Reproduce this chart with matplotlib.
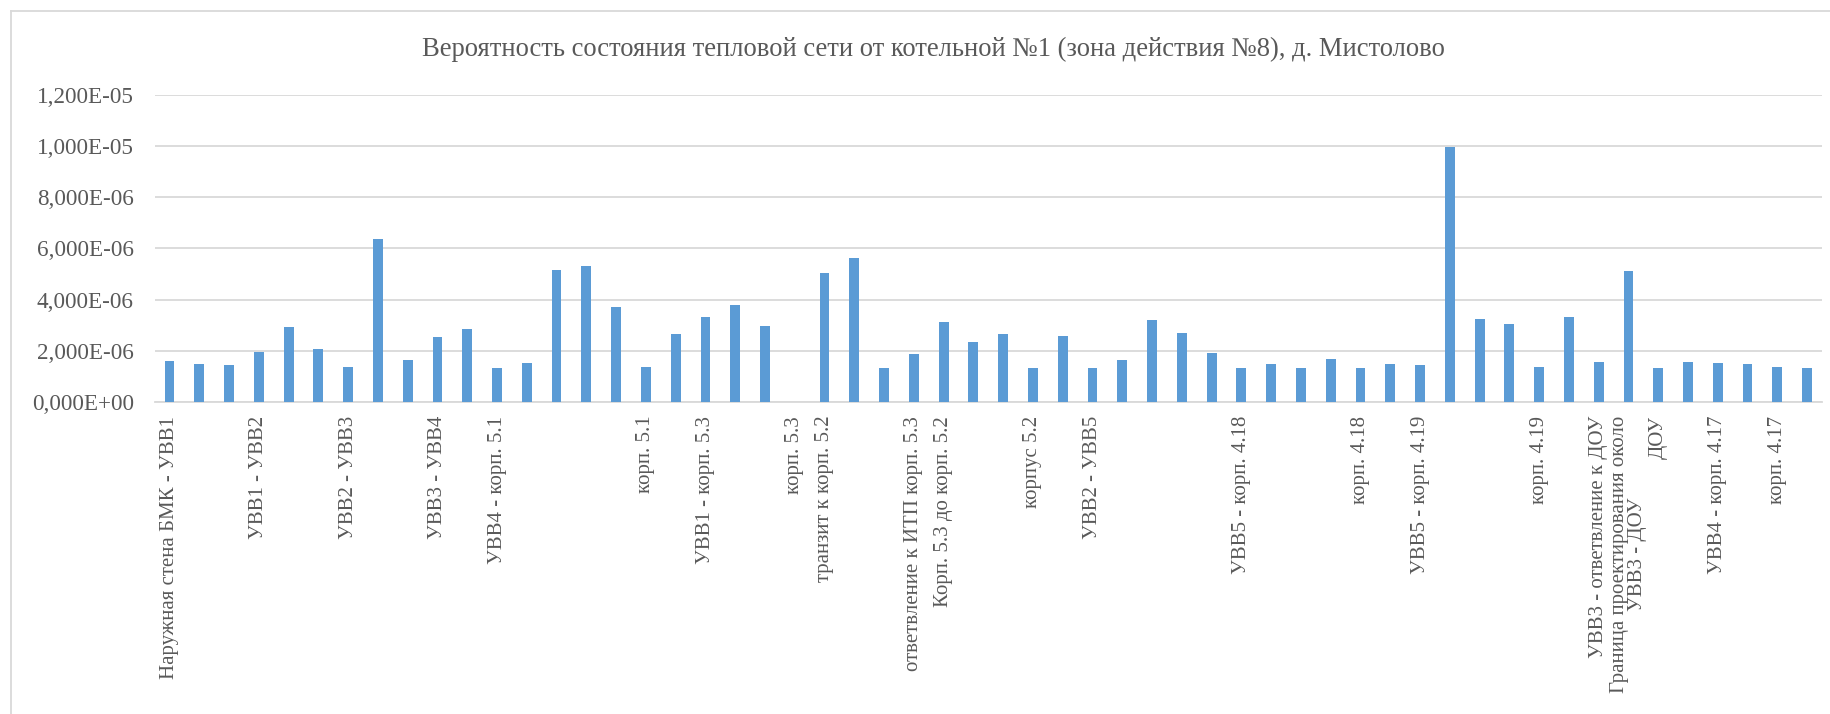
import matplotlib
matplotlib.use("Agg")
import matplotlib.pyplot as plt
from matplotlib.lines import Line2D

TITLE = "Вероятность состояния тепловой сети от котельной №1 (зона действия №8), д. Мистолово"

# values per section (56 bars)
values = [
    1.60e-6, 1.51e-6, 1.46e-6, 1.98e-6, 2.93e-6, 2.08e-6, 1.37e-6, 6.36e-6,
    1.64e-6, 2.54e-6, 2.85e-6, 1.34e-6, 1.52e-6, 5.15e-6, 5.32e-6, 3.72e-6,
    1.38e-6, 2.65e-6, 3.32e-6, 3.81e-6, 2.98e-6, 0.0, 5.04e-6, 5.62e-6,
    1.35e-6, 1.87e-6, 3.12e-6, 2.37e-6, 2.67e-6, 1.35e-6, 2.57e-6, 1.34e-6,
    1.66e-6, 3.20e-6, 2.72e-6, 1.91e-6, 1.34e-6, 1.51e-6, 1.34e-6, 1.69e-6,
    1.35e-6, 1.50e-6, 1.47e-6, 9.97e-6, 3.25e-6, 3.04e-6, 1.38e-6, 3.34e-6,
    1.57e-6, 5.12e-6, 1.35e-6, 1.57e-6, 1.52e-6, 1.48e-6, 1.38e-6, 1.35e-6,
]

# only some of the sections carry a name in the source table
labels = [""] * len(values)
named = {
    1: "Наружная стена БМК - УВВ1",
    4: "УВВ1 - УВВ2",
    7: "УВВ2 - УВВ3",
    10: "УВВ3 - УВВ4",
    12: "УВВ4 - корп. 5.1",
    17: "корп. 5.1",
    19: "УВВ1 - корп. 5.3",
    22: "корп. 5.3",
    23: "транзит к корп. 5.2",
    26: "ответвление к ИТП корп. 5.3",
    27: "Корп. 5.3 до корп. 5.2",
    30: "корпус 5.2",
    32: "УВВ2 - УВВ5",
    37: "УВВ5 - корп. 4.18",
    41: "корп. 4.18",
    43: "УВВ5 - корп. 4.19",
    47: "корп. 4.19",
    49: "УВВ3 - ответвление к ДОУ",
    50: "Граница проектирования около\nУВВ3 - ДОУ",
    51: "ДОУ",
    53: "УВВ4 - корп. 4.17",
    55: "корп. 4.17",
}
for k, name in named.items():
    labels[k - 1] = name

yticks = [0, 2e-6, 4e-6, 6e-6, 8e-6, 1e-5, 1.2e-5]
ytick_labels = ["0,000E+00", "2,000E-06", "4,000E-06", "6,000E-06",
                "8,000E-06", "1,000E-05", "1,200E-05"]

BAR = "#5B9BD5"
GRID = "#D9D9D9"
TEXT = "#595959"

plt.rcParams["font.family"] = ["Liberation Serif", "DejaVu Serif"]

W, H = 1831, 714
fig = plt.figure(figsize=(W / 100, H / 100), dpi=100)
ax = fig.add_axes([154.6 / W, 1 - 402.3 / H, (1822 - 154.6) / W, (402.3 - 94.7) / H])

x = list(range(len(values)))
ax.bar(x, values, width=0.33, color=BAR, zorder=3)

ax.set_xlim(-0.5, len(values) - 0.5)
ax.set_ylim(0, 1.2e-5)
ax.set_yticks(yticks)
ax.set_yticklabels(ytick_labels)
ax.set_xticks(x)
ax.set_xticklabels(labels, rotation=90, va="top", ha="center", linespacing=0.95)
for lab in ax.get_xticklabels():
    lab.set_multialignment("center")

ax.grid(axis="y", color=GRID, linewidth=1.3, zorder=0)
for s in ["top", "right", "left"]:
    ax.spines[s].set_visible(False)
ax.spines["bottom"].set_color(GRID)
ax.spines["bottom"].set_linewidth(1.3)
ax.tick_params(axis="both", length=0, labelcolor=TEXT)
ax.tick_params(axis="x", pad=9.7, labelsize=15)
ax.tick_params(axis="y", pad=15, labelsize=16.7)

fig.text(933 / W, 1 - 49 / H, TITLE, ha="center", va="center",
         fontsize=19.2, color=TEXT)

# chart area border (only left and top edges are inside the picture)
fig.add_artist(Line2D([11 / W, 11 / W], [0, 1 - 11 / H], transform=fig.transFigure,
                      color=GRID, linewidth=1.3))
fig.add_artist(Line2D([11 / W, 1], [1 - 11 / H, 1 - 11 / H], transform=fig.transFigure,
                      color=GRID, linewidth=1.3))

fig.savefig("out.png", dpi=100)
